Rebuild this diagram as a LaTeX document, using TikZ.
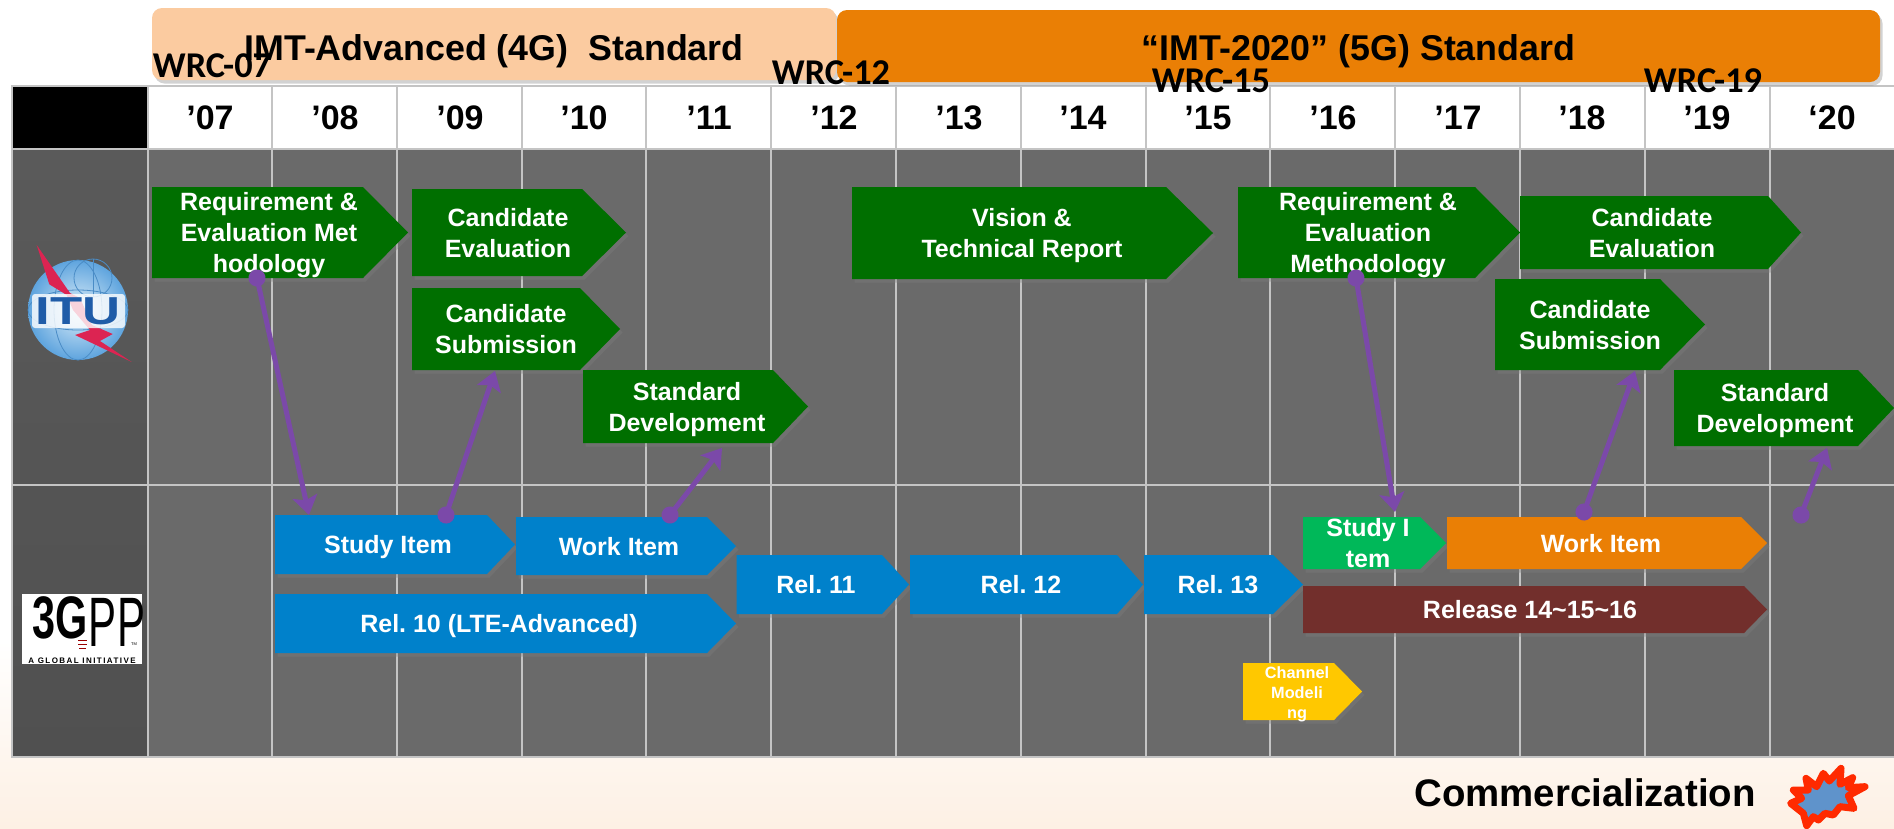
\documentclass[tikz,border=0pt]{standalone}
\usepackage{fontspec}
\usepackage{tikz}
\usetikzlibrary{arrows.meta,shadows}
\setmainfont{Liberation Sans}
\newfontfamily\wrcfont{Carlito}
\definecolor{itugreen}{HTML}{006F00}
\definecolor{gppblue}{HTML}{0081CB}
\definecolor{bandpeach}{HTML}{FBCBA0}
\definecolor{bandorange}{HTML}{EA7F05}
\definecolor{studygreen}{HTML}{00B859}
\definecolor{relbrown}{HTML}{722F2C}
\definecolor{chanyellow}{HTML}{FFC800}
\definecolor{linkpurple}{HTML}{7B49A9}
\definecolor{cellgray}{HTML}{6A6A6A}
\definecolor{rowgray}{HTML}{505050}
\definecolor{rowgraytop}{HTML}{5A5A5A}
\definecolor{linegray}{HTML}{C4C4C4}
\definecolor{paperpeach}{HTML}{FDF0E4}
\definecolor{ituletter}{HTML}{1F5CA8}
\definecolor{itubolt}{HTML}{DC2452}
\definecolor{itulight}{HTML}{DDEEF9}
\definecolor{itusky}{HTML}{5EA4DE}
\definecolor{itugrid}{HTML}{4A8CC6}
\definecolor{starred}{HTML}{FF2A00}
\definecolor{starblue}{HTML}{5F93CB}
\newcommand{\pxfont}[2]{\fontsize{#1}{#2}\selectfont\bfseries}
\newcommand{\stagebar}[9]{
	\fill[stageshadow,#7] (#2,#3) -- (#4,#3) -- (#6,{(#3+#5)/2}) -- (#4,#5) -- (#2,#5) -- cycle;
	\node[stagetext] (#1) at (#8,{(#3+#5)/2+3}) {\strut #9\strut};
}
\tikzset{
	stageshadow/.style={drop shadow={shadow xshift=2.5pt,shadow yshift=-3.5pt,opacity=.35}},
	stagetext/.style={text=white,align=center,inner sep=0pt,font=\pxfont{25}{31}},
	yearlabel/.style={inner sep=0pt,font=\pxfont{34}{34}},
	wrclabel/.style={inner sep=0pt,font=\wrcfont\pxfont{36.3}{36.3}},
	bandbox/.style={rounded corners=10pt,inner sep=0pt,stageshadow,font=\pxfont{35.8}{35.8}},
	gridline/.style={linegray,line width=1.2pt},
	link/.style={linkpurple,line width=5pt,shorten <=-8.5pt,{Circle[length=17pt]}-{Stealth[length=19pt,width=25pt,inset=4pt]}}
}

\begin{document}
\begin{tikzpicture}[x=1pt,y=-1pt]
	\useasboundingbox (0,0) rectangle (1894,828);
	\fill[white] (0,0) rectangle (1894,828);
	\shade[top color=white,bottom color=paperpeach] (0,640) rectangle (1894,828);

	\fill[white] (148,86) rectangle (1894,149);
	\fill[black] (12,86) rectangle (148,149);
	\fill[cellgray] (148,149) rectangle (1894,757);
	\shade[top color=rowgraytop,bottom color=rowgray] (12,149) rectangle (148,757);

	\draw[gridline] (12,86) rectangle (1896,757);
	\draw[gridline] (12,149) -- (1894,149);
	\draw[gridline] (12,485) -- (1894,485);
	\draw[gridline] (148,86) -- (148,757);
	\draw[gridline] (272,86) -- (272,757);
	\draw[gridline] (397,86) -- (397,757);
	\draw[gridline] (522,86) -- (522,757);
	\draw[gridline] (646,86) -- (646,757);
	\draw[gridline] (771,86) -- (771,757);
	\draw[gridline] (896,86) -- (896,757);
	\draw[gridline] (1021,86) -- (1021,757);
	\draw[gridline] (1146,86) -- (1146,757);
	\draw[gridline] (1270,86) -- (1270,757);
	\draw[gridline] (1395,86) -- (1395,757);
	\draw[gridline] (1520,86) -- (1520,757);
	\draw[gridline] (1645,86) -- (1645,757);
	\draw[gridline] (1770,86) -- (1770,757);

	\node[yearlabel] (y07) at (210,118) {’07};
	\node[yearlabel] (y08) at (335,118) {’08};
	\node[yearlabel] (y09) at (460,118) {’09};
	\node[yearlabel] (y10) at (584,118) {’10};
	\node[yearlabel] (y11) at (709,118) {’11};
	\node[yearlabel] (y12) at (834,118) {’12};
	\node[yearlabel] (y13) at (959,118) {’13};
	\node[yearlabel] (y14) at (1083,118) {’14};
	\node[yearlabel] (y15) at (1208,118) {’15};
	\node[yearlabel] (y16) at (1333,118) {’16};
	\node[yearlabel] (y17) at (1458,118) {’17};
	\node[yearlabel] (y18) at (1582,118) {’18};
	\node[yearlabel] (y19) at (1707,118) {’19};
	\node[yearlabel] (y20) at (1832,118) {‘20};

	\node[bandbox,fill=bandpeach,minimum width=684pt,minimum height=72pt] (imta) at (494,44) {\raisebox{-16pt}[0pt][0pt]{IMT-Advanced (4G)\ \ Standard}};
	\node[bandbox,fill=bandorange,minimum width=1043pt,minimum height=72pt] (imt2020) at (1358.5,46) {\raisebox{-14pt}[0pt][0pt]{“IMT-2020” (5G) Standard}};

	\node[wrclabel] (wrc07) at (212,66) {WRC-07};
	\node[wrclabel] (wrc12) at (831,73) {WRC-12};
	\node[wrclabel] (wrc15) at (1211,81) {WRC-15};
	\node[wrclabel] (wrc19) at (1703,81) {WRC-19};

	\stagebar{reqa}{152}{187}{363}{278}{408}{itugreen}{269}{Requirement \&\\Evaluation Met\\hodology}
	\stagebar{evala}{412}{189}{582}{276}{626}{itugreen}{508}{Candidate\\Evaluation}
	\stagebar{suba}{412}{288}{580}{370}{620}{itugreen}{506}{Candidate\\Submission}
	\stagebar{stda}{583}{370}{773}{443}{808}{itugreen}{687}{Standard\\Development}
	\stagebar{vision}{852}{187}{1166}{279}{1213}{itugreen}{1022}{Vision \&\\Technical Report}
	\stagebar{reqb}{1238}{187}{1475}{278}{1520}{itugreen}{1368}{Requirement \&\\Evaluation\\Methodology}
	\stagebar{evalb}{1520}{196}{1768}{269}{1801}{itugreen}{1652}{Candidate\\Evaluation}
	\stagebar{subb}{1495}{279}{1660}{370}{1705}{itugreen}{1590}{Candidate\\Submission}
	\stagebar{stdb}{1674}{370}{1858}{446}{1894}{itugreen}{1775}{Standard\\Development}

	\stagebar{studya}{275}{515}{487}{574}{515}{gppblue}{388}{Study Item}
	\stagebar{worka}{516}{517}{707}{575}{736}{gppblue}{619}{Work Item}
	\stagebar{relten}{275}{594}{707}{653}{736}{gppblue}{499}{Rel.\ 10 (LTE-Advanced)}
	\stagebar{releleven}{736.5}{555}{882}{614}{909}{gppblue}{816}{Rel.\ 11}
	\stagebar{reltwelve}{910}{555}{1117}{614}{1143}{gppblue}{1021}{Rel.\ 12}
	\stagebar{relthirteen}{1144}{555}{1273}{614}{1303}{gppblue}{1218}{Rel.\ 13}
	\stagebar{studyb}{1303}{517}{1420}{569}{1446}{studygreen}{1368}{Study I\\tem}
	\stagebar{workb}{1447}{517}{1741}{569}{1767}{bandorange}{1601}{Work Item}
	\stagebar{relrest}{1303}{586}{1744}{633}{1767}{relbrown}{1530}{Release 14\textasciitilde15\textasciitilde16}
	\begin{scope}[stagetext/.append style={font=\pxfont{16.3}{20}}]
		\stagebar{channel}{1243}{663}{1334}{720}{1362}{chanyellow}{1297}{Channel\\Modeli\\ng}
	\end{scope}

	\coordinate (reqadot) at (257,278);
	\coordinate (studyahead) at (309,515);
	\coordinate (studyadot) at (446,515);
	\coordinate (subahead) at (495,371);
	\coordinate (workadot) at (670,515);
	\coordinate (stdahead) at (722,448);
	\coordinate (reqbdot) at (1356,278);
	\coordinate (studybhead) at (1395,512);
	\coordinate (workbdot) at (1584,512);
	\coordinate (subbhead) at (1635,371);
	\coordinate (commdot) at (1801,515);
	\coordinate (stdbhead) at (1827,448);
	\draw[link] (reqadot) -- (studyahead);
	\draw[link] (studyadot) -- (subahead);
	\draw[link] (workadot) -- (stdahead);
	\draw[link] (reqbdot) -- (studybhead);
	\draw[link] (workbdot) -- (subbhead);
	\draw[link] (commdot) -- (stdbhead);

	\shade[inner color=itulight,outer color=itusky] (78,310) circle (50);
	\draw[itugrid,line width=.8pt] (78,310) ellipse (24 and 50);
	\draw[itugrid,line width=.8pt] (78,310) ellipse (50 and 20);
	\draw[itugrid,line width=.8pt] (93,278) circle (19);
	\draw[itugrid,line width=.8pt] (93,259) -- (93,297);
	\fill[itubolt] (36.7,245) -- (70,293) -- (80,298) -- (92,325) -- (112.7,334) -- (100,341) -- (131.7,362) -- (75,335) -- (90,330) -- (73,310) -- (66.7,295) -- (49.3,284.3) -- cycle;
	\fill[white,rounded corners=3pt,opacity=.8] (32,294) rectangle (125,328);
	\node[text=ituletter,inner sep=0pt,font=\pxfont{39}{39},xscale=1.35,transform shape] (itu) at (78,311) {ITU};

	\fill[white] (22,594) rectangle (142,664);
	\node[inner sep=0pt,font=\pxfont{60}{60},xscale=.69,transform shape] (gppthree) at (60,618) {3G};
	\node[inner sep=0pt,font=\fontsize{70}{70}\selectfont,xscale=.6,transform shape] (gpppp) at (117,622) {PP};
	\draw[red!60!black,line width=1pt] (78,640) -- (87,640);
	\draw[red!60!black,line width=1pt] (78,644) -- (87,644);
	\draw[red!60!black,line width=1pt] (79,648) -- (86,648);
	\node[inner sep=0pt,font=\fontsize{4}{4}\selectfont] (gpptm) at (134,644) {TM};
	\node[inner sep=0pt,font=\addfontfeature{LetterSpace=18}\pxfont{8}{8}] (gppline) at (82,661) {A GLOBAL INITIATIVE};

	\node[inner sep=0pt,font=\pxfont{38.4}{38.4}] (commercial) at (1585,793) {Commercialization};
	\begin{scope}[shift={(1780,755)},x=.3333pt,y=-.3333pt]
		\filldraw[starred,fill=starblue,line width=7pt,line join=round] (78,70) -- (110,95) -- (130,55) -- (148,78) -- (183,40) -- (180,88) -- (218,68) -- (205,98) -- (255,95) -- (205,122) -- (222,160) -- (180,155) -- (160,180) -- (135,175) -- (115,195) -- (100,185) -- (80,212) -- (70,175) -- (32,145) -- (65,130) -- (40,105) -- (85,105) -- cycle;
	\end{scope}
\end{tikzpicture}
\end{document}
